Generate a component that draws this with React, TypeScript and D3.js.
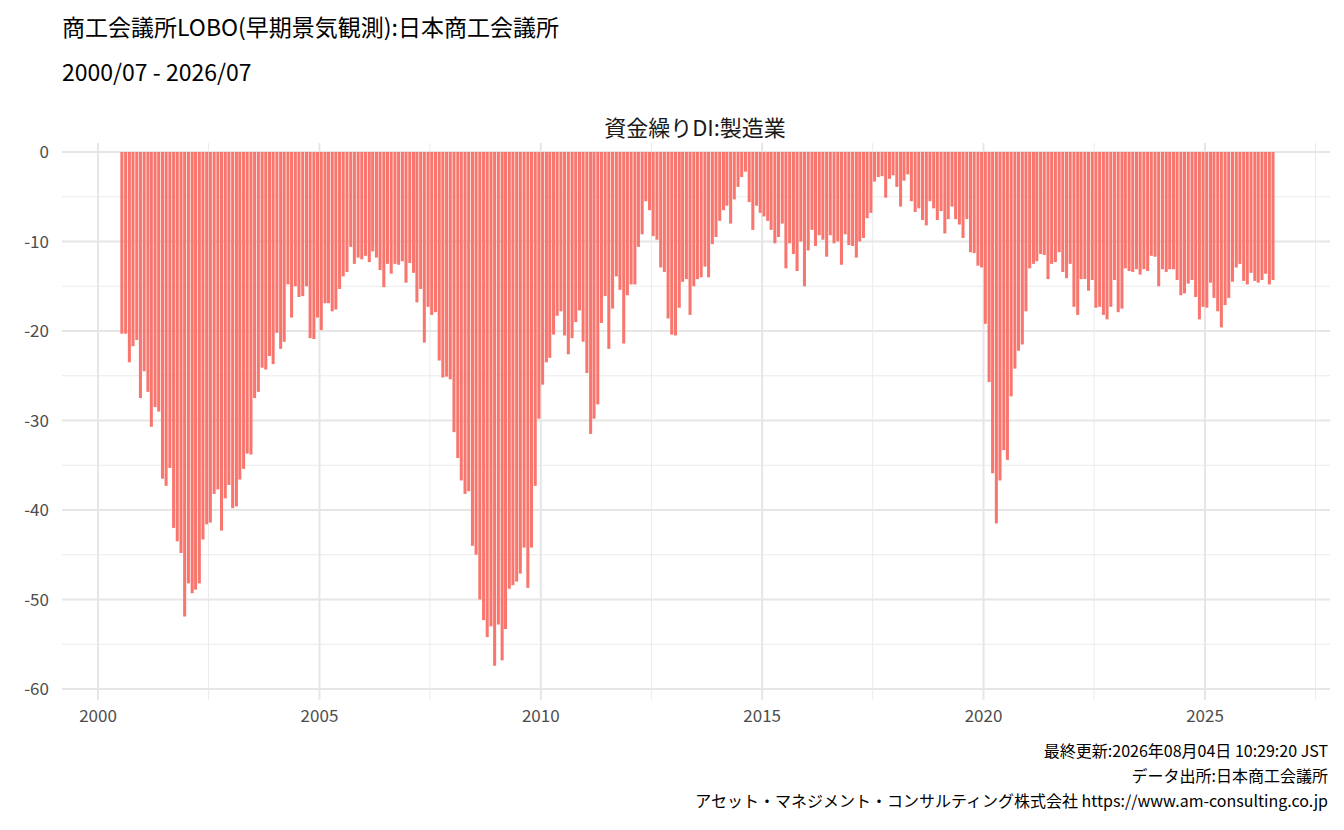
import React from 'react';
import * as d3 from 'd3';

// monthly DI values, 2000/07 .. 2026/07
const y2000 = [-20.3, -20.3, -23.5, -21.7, -21, -27.5];
const y2001 = [-24.5, -26.8, -30.7, -28.5, -29, -36.5, -37.3, -35.3, -42, -43.5, -44.8, -51.9];
const y2002 = [-48.2, -49.3, -48.9, -48.2, -43.3, -41.6, -41.4, -38.2, -37.7, -42.3, -38.7, -37.2];
const y2003 = [-39.8, -39.6, -36.6, -35.4, -33.7, -33.8, -27.5, -26.8, -24.1, -24.3, -22.8, -23.7];
const y2004 = [-20.2, -22, -21.2, -14.8, -18.5, -15, -16.2, -16.1, -15, -20.8, -20.9, -18.5];
const y2005 = [-19.9, -16.9, -16.9, -17.8, -17.6, -15.3, -13.9, -13.4, -10.6, -12.5, -11.8, -12];
const y2006 = [-11.6, -12.3, -11.1, -11.8, -13.2, -15.1, -12.5, -13.6, -12.5, -12.6, -12.2, -14.6];
const y2007 = [-12.4, -13.5, -16.8, -15.3, -21.3, -17.3, -18.2, -17.9, -23.3, -25.2, -25.1, -25.4];
const y2008 = [-31.3, -34.2, -36.7, -38.2, -37.9, -44, -45, -50, -52.3, -54.2, -53, -57.4];
const y2009 = [-52.8, -56.8, -53.3, -48.8, -48.4, -48, -47.1, -44.2, -48.7, -44.2, -37.3, -29.8];
const y2010 = [-26, -23.5, -23, -20.4, -18.3, -17.8, -20.5, -22.6, -20.8, -19, -17.7, -21.2];
const y2011 = [-24.7, -31.5, -29.8, -28.2, -19.1, -16.1, -22, -17.5, -13.9, -15.4, -21.4, -16];
const y2012 = [-14.8, -14.8, -10.6, -9.2, -5.5, -6.5, -9.4, -9.8, -12.9, -13.4, -18.6, -20.4];
const y2013 = [-20.5, -17.4, -14.5, -14.2, -18.2, -15, -14.2, -14, -12.8, -14, -10.3, -9.5];
const y2014 = [-7.7, -6.5, -6, -8, -5.3, -3.9, -2.8, -2.2, -5.6, -8.7, -6, -6.8];
const y2015 = [-7.2, -7.7, -8.7, -10.2, -9.5, -8, -13, -10.2, -11.4, -13.3, -10, -15];
const y2016 = [-11, -8.7, -10.5, -9.3, -9.8, -11.7, -9.3, -10.2, -10, -12.6, -9.2, -10.4];
const y2017 = [-10.5, -11.8, -10, -9.6, -7.4, -6.8, -3.3, -2.8, -2.7, -5.1, -3, -2.6];
const y2018 = [-3.9, -6.1, -3.2, -2.5, -5.5, -6.7, -6.3, -7.6, -8.2, -5.5, -6.3, -7.6];
const y2019 = [-6.6, -9.1, -7.5, -6.1, -7.5, -8.1, -9.6, -7.5, -11.2, -11.3, -12.7, -12.9];
const y2020 = [-19.2, -25.7, -35.9, -41.5, -36.7, -33.3, -34.4, -27.3, -24.2, -22.2, -21.5, -17.8];
const y2021 = [-13, -12.5, -12.2, -11.4, -11.5, -14.2, -12.5, -12.3, -11.2, -13.4, -14.1, -12.5];
const y2022 = [-17.3, -18.2, -14.2, -14.2, -15.5, -14.3, -17.4, -17.3, -18.2, -18.7, -17.3, -14.3];
const y2023 = [-17.9, -17.5, -13, -13.3, -13.4, -13.1, -13.7, -13.1, -13.3, -11.6, -11.7, -15];
const y2024 = [-13.1, -13.4, -13.1, -13.1, -14.3, -16, -15.8, -14.7, -14.3, -16.2, -18.7, -17.3];
const y2025 = [-17.4, -14.6, -16.3, -17.8, -19.6, -17.1, -16.3, -14.5, -12.9, -12.5, -14.4, -14.8];
const y2026 = [-13.5, -14.4, -14.6, -14.3, -13.6, -14.8, -14.3];

const values = [
  ...y2000, ...y2001, ...y2002, ...y2003, ...y2004, ...y2005, ...y2006, ...y2007, ...y2008,
  ...y2009, ...y2010, ...y2011, ...y2012, ...y2013, ...y2014, ...y2015, ...y2016, ...y2017,
  ...y2018, ...y2019, ...y2020, ...y2021, ...y2022, ...y2023, ...y2024, ...y2025, ...y2026,
];
const startDate = new Date(2000, 6, 1);
const data = values.map((v, i) => ({ date: d3.timeMonth.offset(startDate, i), value: v }));

const yTicks = [0, -10, -20, -30, -40, -50, -60];
const xTickYears = [2000, 2005, 2010, 2015, 2020, 2025];

const W = 1344, H = 830;
const FONT = '"Noto Sans CJK JP", "Noto Sans", sans-serif';
const left = 62, right = 1330, top = 143, bottom = 700;

export default function App() {
  const x = d3.scaleTime()
    .domain([new Date(2000, 0, 1), new Date(2025, 0, 1)])
    .range([98, 1205]);
  const y = d3.scaleLinear().domain([0, -60]).range([152, 689]);
  const bw = (x(new Date(2001, 0, 1)) - x(new Date(2000, 0, 1))) / 12 * 0.82;

  const minorY = [-5, -15, -25, -35, -45, -55];
  const minorX = [2002.5, 2007.5, 2012.5, 2017.5, 2022.5, 2027.5];
  const yearX = (yr: number) => x(new Date(Math.floor(yr), Math.round((yr % 1) * 12), 1));

  return (
    <svg width={W} height={H} style={{ display: 'block', position: 'absolute', left: 0, top: 0 }} fontFamily={FONT}>
      <rect width={W} height={H} fill="#fff" />
      <text x={62} y={36} fontSize={23} fill="#000">商工会議所LOBO(早期景気観測):日本商工会議所</text>
      <text x={62} y={81} fontSize={23} fill="#000">2000/07 - 2026/07</text>
      <text x={695} y={136} fontSize={22} textAnchor="middle" fill="#1a1a1a">資金繰りDI:製造業</text>

      {minorY.map(t => (
        <line key={'my' + t} x1={left} x2={right} y1={y(t)} y2={y(t)} stroke="#ebebeb" strokeWidth={1} />
      ))}
      {minorX.map(t => (
        <line key={'mx' + t} x1={yearX(t)} x2={yearX(t)} y1={top} y2={bottom} stroke="#ebebeb" strokeWidth={1} />
      ))}
      {yTicks.map(t => (
        <line key={'y' + t} x1={left} x2={right} y1={y(t)} y2={y(t)} stroke="#e6e6e6" strokeWidth={2} />
      ))}
      {xTickYears.map(t => (
        <line key={'x' + t} x1={yearX(t)} x2={yearX(t)} y1={top} y2={bottom} stroke="#e6e6e6" strokeWidth={2} />
      ))}

      {data.map((d, i) => (
        <rect key={i} x={x(d.date) - bw / 2 + 1.8} y={y(0)} width={bw} height={y(d.value) - y(0)} fill="#F8766D" />
      ))}

      {yTicks.map(t => (
        <text key={'yl' + t} x={49} y={y(t) + 6} fontSize={17} textAnchor="end" fill="#4d4d4d">{t}</text>
      ))}
      {xTickYears.map(t => (
        <text key={'xl' + t} x={yearX(t)} y={722} fontSize={17} textAnchor="middle" fill="#4d4d4d">{t}</text>
      ))}

      <text x={1328} y={757} fontSize={16} textAnchor="end" fill="#000">最終更新:2026年08月04日 10:29:20 JST</text>
      <text x={1328} y={782} fontSize={16} textAnchor="end" fill="#000">データ出所:日本商工会議所</text>
      <text x={1328} y={807} fontSize={16} textAnchor="end" fill="#000">アセット・マネジメント・コンサルティング株式会社 https://www.am-consulting.co.jp</text>
    </svg>
  );
}
